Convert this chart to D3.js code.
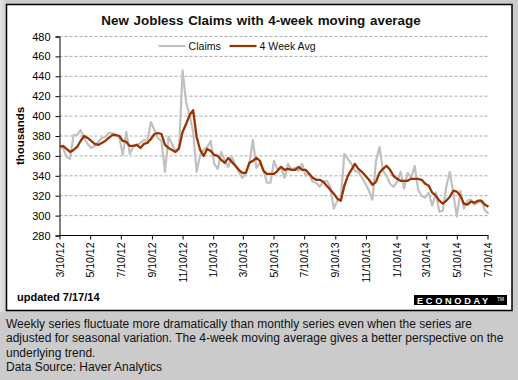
<!DOCTYPE html>
<html>
<head>
<meta charset="utf-8">
<script src="https://cdn.jsdelivr.net/npm/d3@7"></script>
<style>
  body { margin: 0; background: #cbcbcb; }
  svg { display: block; font-family: Arial, "Liberation Sans", sans-serif; }
</style>
</head>
<body>
<svg id="chart" width="518" height="380"></svg>
<script>

//###############################################################//
//          New jobless claims with 4-week moving average        //
//###############################################################//

// weekly data, first week ending 3/10/12
var firstWeek = "3/10/12";

var claims = [369,368,359,357,381,381,386,378,372,368,370,374,378,379,383,383,381,379,361,384,
              362,370,371,373,376,375,394,386,378,375,344,379,372,365,366,446,414,401,384,344,
              361,366,369,375,352,347,364,355,349,359,351,344,338,343,353,376,348,353,346,333,
              333,355,346,349,338,352,346,348,345,352,340,342,334,333,329,334,335,329,307,315,
              317,362,357,352,345,344,338,332,325,316,355,369,345,340,332,329,334,344,327,343,
              338,350,326,320,318,323,310,323,304,305,329,344,322,299,325,307,315,316,311,313,
              315,305,302];

var avg4 = [369,370,367,364,366,369,375,380,378,375,372,371,373,375,378,381,381,380,375,374,
            370,370,371,368,372,373,377,382,383,382,371,368,366,364,368,384,392,401,406,379,
            366,360,367,365,361,360,356,353,358,354,350,346,343,343,353,355,358,355,345,342,
            342,342,345,349,346,347,346,346,349,346,346,342,338,336,336,334,330,326,322,317,
            315,330,340,346,352,347,344,340,336,331,334,343,347,350,346,340,337,335,335,335,
            337,337,337,336,332,330,323,320,315,312,315,319,325,324,320,312,311,314,313,315,
            315,311,309];

var xTickLabels = ["3/10/12","5/10/12","7/10/12","9/10/12","11/10/12","1/10/13","3/10/13",
                   "5/10/13","7/10/13","9/10/13","11/10/13","1/10/14","3/10/14","5/10/14","7/10/14"];

var yTicks = [280,300,320,340,360,380,400,420,440,460,480];

var seriesNames = ["Claims","4 Week Avg"];

var noteLines = [
  "Weekly series fluctuate more dramatically than monthly series even when the series are",
  "adjusted for seasonal variation. The 4-week moving average gives a better perspective on the",
  "underlying trend.",
  "Data Source: Haver Analytics"
];


var parse = d3.timeParse("%m/%d/%y");
var start = parse(firstWeek);
var dates = claims.map(function(d, i) { return d3.timeDay.offset(start, 7 * i); });

var colors = ["#c0c0c0", "#993300"];

var svg = d3.select("#chart");

//======= panel (light shade on the left edge)
var grad = svg.append("defs").append("linearGradient")
   .attr("id", "edge").attr("x1", 0).attr("x2", 1);
grad.append("stop").attr("offset", 0).attr("stop-color", "#e4e4e4");
grad.append("stop").attr("offset", 1).attr("stop-color", "#cbcbcb");

svg.append("rect")
   .attr("x", 0).attr("y", 0)
   .attr("width", 7).attr("height", 312)
   .attr("fill", "url(#edge)");

svg.append("rect")
   .attr("x", 6.5).attr("y", 4.5)
   .attr("width", 505.5).attr("height", 306)
   .attr("fill", "#fff")
   .attr("stroke", "#000")
   .attr("stroke-width", 1.5);

//======= title
svg.append("text")
   .attr("x", 261).attr("y", 25)
   .attr("text-anchor", "middle")
   .style("font-size", "13.4px")
   .style("font-weight", "bold")
   .style("word-spacing", "1px")
   .attr("fill", "#111")
   .text("New Jobless Claims with 4-week moving average");

//========= scales
var x = d3.scaleTime()
          .domain([parse(xTickLabels[0]), parse(xTickLabels[xTickLabels.length - 1])])
          .range([59.5, 487.5]);

var y = d3.scaleLinear()
          .domain([280, 480])
          .range([235.5, 36.5]);

var xEnd = x(dates[dates.length - 1]);

//========= grid
svg.append("g")
   .selectAll("line")
   .data(yTicks.slice(1))
   .enter()
   .append("line")
     .attr("x1", x.range()[0]).attr("x2", xEnd)
     .attr("y1", function(d) { return y(d); })
     .attr("y2", function(d) { return y(d); })
     .attr("stroke", "#aaa")
     .attr("stroke-dasharray", "3,2")
     .attr("stroke-width", 1);

//========= y axis
var yAxis = svg.append("g")
   .attr("transform", "translate(" + x.range()[0] + ",0)")
   .call(d3.axisLeft(y).tickValues(yTicks).tickSize(4).tickPadding(5));

yAxis.select(".domain").attr("stroke", "#000");
yAxis.selectAll("text").style("font-size", "11px").attr("fill", "#000");

svg.append("text")
   .attr("transform", "translate(24,136) rotate(-90)")
   .attr("text-anchor", "middle")
   .style("font-size", "11.5px")
   .style("font-weight", "bold")
   .text("thousands");

//========= x axis
var xAxis = svg.append("g")
   .attr("transform", "translate(0," + y(280) + ")")
   .call(d3.axisBottom(x)
           .tickValues(xTickLabels.map(parse))
           .tickFormat(function(d, i) { return xTickLabels[i]; })
           .tickSize(4));

xAxis.select(".domain").attr("d", "M" + x.range()[0] + ",0H" + xEnd).attr("stroke", "#000");
xAxis.selectAll("text")
     .style("font-size", "10.5px")
     .attr("fill", "#000")
     .attr("text-anchor", "end")
     .attr("transform", "rotate(-90)")
     .attr("x", -7)
     .attr("y", 0)
     .attr("dy", "0.35em");

//========= lines
var line = d3.line()
             .x(function(d, i) { return x(dates[i]); })
             .y(function(d) { return y(d); });

svg.append("path")
   .attr("d", line(claims))
   .attr("fill", "none")
   .attr("stroke", colors[0])
   .attr("stroke-width", 2.2)
   .attr("stroke-linejoin", "round");

svg.append("path")
   .attr("d", line(avg4))
   .attr("fill", "none")
   .attr("stroke", colors[1])
   .attr("stroke-width", 2.3)
   .attr("stroke-linejoin", "round");

//========= legend
var legX = [158.5, 229.5];
var legend = svg.append("g");

legend.selectAll("line")
  .data(seriesNames)
  .enter()
  .append("line")
    .attr("x1", function(d, i) { return legX[i]; })
    .attr("x2", function(d, i) { return legX[i] + 27; })
    .attr("y1", 46).attr("y2", 46)
    .attr("stroke", function(d, i) { return colors[i]; })
    .attr("stroke-width", 2.2);

legend.selectAll("text")
  .data(seriesNames)
  .enter()
  .append("text")
    .attr("x", function(d, i) { return legX[i] + 30; })
    .attr("y", 50)
    .style("font-size", "10.6px")
    .attr("fill", "#111")
    .text(function(d) { return d; });

//========= footer
svg.append("text")
   .attr("x", 17).attr("y", 300.5)
   .style("font-size", "11px")
   .style("font-weight", "bold")
   .text("updated 7/17/14");

svg.append("rect")
   .attr("x", 414).attr("y", 295)
   .attr("width", 93).attr("height", 10)
   .attr("fill", "#000");

svg.append("text")
   .attr("x", 417).attr("y", 303.6)
   .style("font-size", "9.2px")
   .style("font-weight", "bold")
   .style("letter-spacing", "2.7px")
   .attr("fill", "#fff")
   .text("ECONODAY");

svg.append("text")
   .attr("x", 497).attr("y", 300.5)
   .style("font-size", "5px")
   .style("font-weight", "bold")
   .attr("fill", "#bbb")
   .text("TM");

//========= note
svg.append("g")
   .selectAll("text")
   .data(noteLines)
   .enter()
   .append("text")
     .attr("x", 6)
     .attr("y", function(d, i) { return 327.5 + i * 14.5; })
     .style("font-size", "12px")
     .attr("fill", "#111")
     .text(function(d) { return d; });

</script>
</body>
</html>
